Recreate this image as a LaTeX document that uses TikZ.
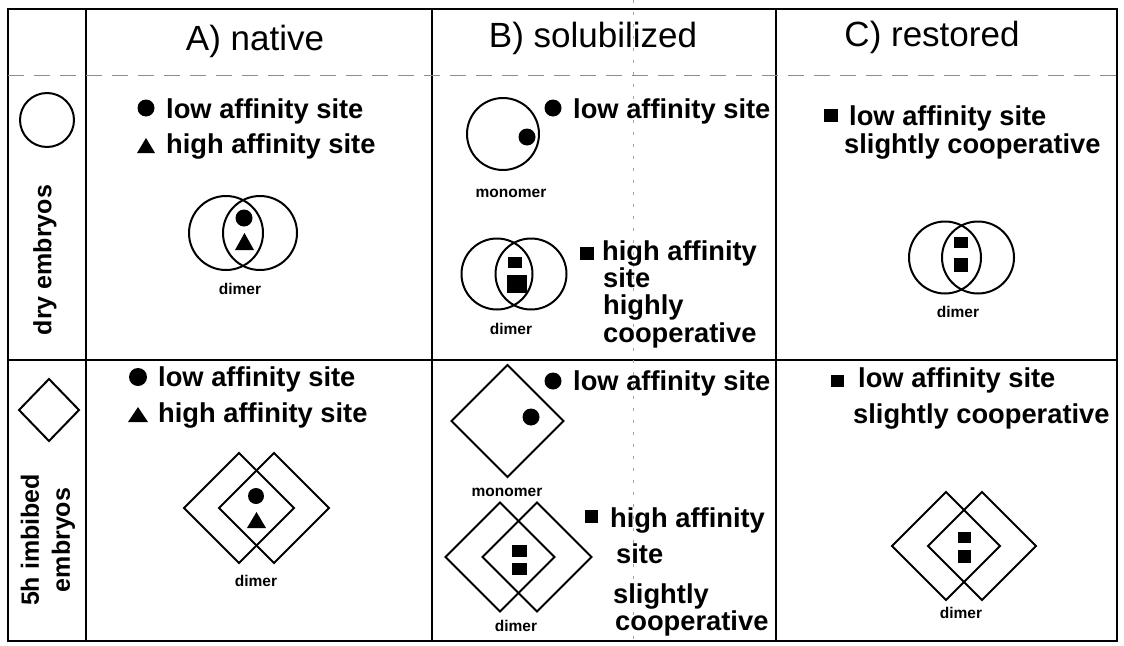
\documentclass[tikz,border=0pt]{standalone}
\usepackage{fontspec}
\setmainfont{Liberation Sans}
\newcommand\headsize{\fontsize{35}{40}\selectfont}
\newcommand\sitesize{\bfseries\fontsize{27.3}{30}\selectfont}
\newcommand\rowsize{\bfseries\fontsize{25}{31}\selectfont}
\newcommand\tagsize{\bfseries\fontsize{15.5}{17}\selectfont}
\begin{document}
\begin{tikzpicture}[x=1pt,y=-1pt,
    frame/.style={line width=1.8pt},
    guide/.style={black!45,line width=0.9pt,dash pattern=on 16pt off 10pt},
    fold/.style={black!35,line width=0.7pt,dash pattern=on 3pt off 9pt},
    outline/.style={line width=2pt},
    head/.style={font=\headsize,inner sep=0pt,anchor=base},
    site/.style={font=\sitesize,inner sep=0pt,anchor=base west},
    tag/.style={font=\tagsize,inner sep=0pt},
    rowlabel/.style={font=\rowsize,rotate=90,align=center,inner sep=0pt}]
  \useasboundingbox (0,0) rectangle (1124,645);
  % table
  \draw[frame] (8,9) rectangle (1117,641);
  \foreach \x in {86,432,776}
    \draw[frame] (\x,9) -- (\x,641);
  \draw[frame] (8,360) -- (1117,360);
  \draw[guide] (8,75) -- (1117,75);
  \draw[fold] (633,0) -- (633,645);
  % headers
  \node[head] (hdA) at (255,50) {A) native};
  \node[head] (hdB) at (593,47) {B) solubilized};
  \node[head] (hdC) at (932,46) {C) restored};
  % row labels
  \draw[outline] (47,120) circle (27);
  \node[rowlabel] (dry) at (45,260) {dry embryos};
  \draw[outline] (19,410) -- (49,379) -- (79,410) -- (49,441) -- cycle;
  \node[rowlabel] (imbibed) at (48,540) {5h imbibed\\embryos};
  % dry, native
  \fill (146,108) circle (8.5);
  \node[site] (lowA1) at (166,118) {low affinity site};
  \fill (137,153) -- (146,138) -- (155,153) -- cycle;
  \node[site] (highA1) at (166,153) {high affinity site};
  \draw[outline] (226,233) circle (37);
  \draw[outline] (260,233) circle (37);
  \fill (244,218) circle (8.5);
  \fill (235,250) -- (244.5,233) -- (254,250) -- cycle;
  \node[tag] (dimA1) at (240,289) {dimer};
  % dry, solubilized
  \fill (553,108) circle (8.5);
  \node[site] (lowB1) at (573,118) {low affinity site};
  \draw[outline] (503,134) circle (36);
  \fill (527,137) circle (8.5);
  \node[tag] (monoB1) at (511,193) {monomer};
  \draw[outline] (497,274) circle (35.5);
  \draw[outline] (531,274) circle (35.5);
  \fill (508,257) rectangle (522,268);
  \fill (507,275) rectangle (527,293);
  \node[tag] (dimB1) at (511,329) {dimer};
  \fill (580,247) rectangle (594,260);
  \node[site] (highB1) at (602,260) {high affinity};
  \node[site] (siteB1) at (603,287) {site};
  \node[site] (kindB1) at (603,314) {highly};
  \node[site] (coopB1) at (603,342) {cooperative};
  % dry, restored
  \fill (824,109) rectangle (838,122);
  \node[site] (lowC1) at (849,125) {low affinity site};
  \node[site] (coopC1) at (844,153) {slightly cooperative};
  \draw[outline] (945,257.5) circle (36);
  \draw[outline] (978,257.5) circle (36);
  \fill (954,237) rectangle (968,248);
  \fill (954,258) rectangle (968,272);
  \node[tag] (dimC1) at (958,312) {dimer};
  % imbibed, native
  \fill (138,377) circle (9);
  \node[site] (lowA2) at (158,386) {low affinity site};
  \fill (128,422) -- (138,407) -- (148,422) -- cycle;
  \node[site] (highA2) at (158,422) {high affinity site};
  \draw[outline] (184,508) -- (239,453) -- (294,508) -- (239,563) -- cycle;
  \draw[outline] (219,508) -- (274,453) -- (329,508) -- (274,563) -- cycle;
  \fill (256,496) circle (8);
  \fill (247,528) -- (256.5,512) -- (266,528) -- cycle;
  \node[tag] (dimA2) at (256,581) {dimer};
  % imbibed, solubilized
  \fill (553,381) circle (8.5);
  \node[site] (lowB2) at (573,390) {low affinity site};
  \draw[outline] (451.5,421) -- (507.5,365) -- (563.5,421) -- (507.5,477) -- cycle;
  \fill (531,417) circle (8.5);
  \node[tag] (monoB2) at (507,492) {monomer};
  \draw[outline] (445.5,557) -- (500,502.5) -- (554.5,557) -- (500,611.5) -- cycle;
  \draw[outline] (482.5,557) -- (537,502.5) -- (591.5,557) -- (537,611.5) -- cycle;
  \fill (512,545) rectangle (527,557);
  \fill (512,563) rectangle (527,575);
  \node[tag] (dimB2) at (516,626) {dimer};
  \fill (585,510) rectangle (598,523);
  \node[site] (highB2) at (610,527) {high affinity};
  \node[site] (siteB2) at (616,563) {site};
  \node[site] (kindB2) at (613,603) {slightly};
  \node[site] (coopB2) at (615,630) {cooperative};
  % imbibed, restored
  \fill (831,375) rectangle (844,387);
  \node[site] (lowC2) at (858,387) {low affinity site};
  \node[site] (coopC2) at (853,423) {slightly cooperative};
  \draw[outline] (892,546) -- (946,492) -- (1000,546) -- (946,600) -- cycle;
  \draw[outline] (928,546) -- (982,492) -- (1036,546) -- (982,600) -- cycle;
  \fill (958,532) rectangle (971,543);
  \fill (958,550) rectangle (971,563);
  \node[tag] (dimC2) at (961,613) {dimer};
\end{tikzpicture}
\end{document}
